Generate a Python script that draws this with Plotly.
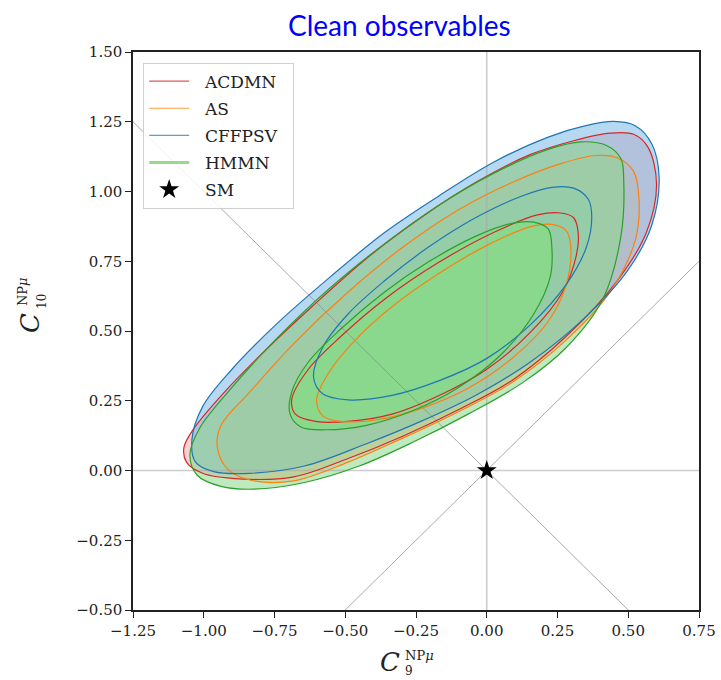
import plotly.graph_objects as go

# ---------------- data ----------------
models = ["ACDMN", "AS", "CFFPSV", "HMMN"]
line_colors = ["#d62728", "#ff7f0e", "#1f77b4", "#2ca02c"]
fill_2s = ["rgba(240,140,150,0.40)", "rgba(255,185,120,0.40)",
           "rgba(110,180,228,0.50)", "rgba(139,217,139,0.55)"]
fill_1s = ["rgba(240,140,150,0.45)", "rgba(255,185,120,0.45)",
           "rgba(100,185,225,0.60)", "rgba(134,218,134,0.90)"]
legend_colors = ["#e0575b", "#ff9a3c", "#5a9fd4", "#98d98e"]
legend_widths = [1.2, 1.2, 1.2, 3.0]

# contour outlines (C9, C10), counter-clockwise
acdmn_2s_c9 = [0.600, 0.570, 0.519, 0.436, 0.307, 0.153, -0.040, -0.233, -0.425, -0.618, -0.772, -0.926,
               -1.036, -1.070, -1.061, -1.004, -0.875, -0.682, -0.490, -0.297, -0.104, 0.088, 0.281, 0.461, 0.564]
acdmn_2s_c10 = [1.025, 1.158, 1.205, 1.209, 1.182, 1.132, 1.032, 0.906, 0.760, 0.587, 0.441, 0.282,
                0.149, 0.083, 0.030, -0.010, -0.030, -0.023, 0.043, 0.123, 0.216, 0.322, 0.481, 0.680, 0.853]
acdmn_1s_c9 = [0.323, 0.307, 0.262, 0.179, 0.024, -0.168, -0.361, -0.515, -0.631, -0.689, -0.676, -0.605,
               -0.490, -0.335, -0.168, -0.001, 0.153, 0.268, 0.317]
acdmn_1s_c10 = [0.853, 0.906, 0.923, 0.916, 0.853, 0.747, 0.614, 0.481, 0.362, 0.255, 0.202, 0.176,
                0.176, 0.202, 0.269, 0.362, 0.494, 0.640, 0.773]

as_2s_c9 = [0.538, 0.519, 0.461, 0.384, 0.256, 0.089, -0.104, -0.297, -0.490, -0.682, -0.837, -0.939,
            -0.952, -0.914, -0.837, -0.682, -0.490, -0.297, -0.104, 0.089, 0.281, 0.436, 0.525]
as_2s_c10 = [0.972, 1.072, 1.121, 1.129, 1.098, 1.032, 0.932, 0.800, 0.640, 0.455, 0.282, 0.162,
             0.083, 0.003, -0.034, -0.037, 0.030, 0.116, 0.209, 0.315, 0.468, 0.640, 0.826]
as_1s_c9 = [0.297, 0.281, 0.230, 0.153, -0.001, -0.168, -0.335, -0.464, -0.560, -0.601, -0.580, -0.515,
            -0.387, -0.233, -0.066, 0.088, 0.217, 0.281]
as_1s_c10 = [0.800, 0.859, 0.882, 0.873, 0.806, 0.707, 0.587, 0.468, 0.348, 0.255, 0.196, 0.176,
             0.182, 0.222, 0.295, 0.401, 0.534, 0.667]

cffpsv_2s_c9 = [0.609, 0.583, 0.526, 0.448, 0.346, 0.217, 0.024, -0.168, -0.361, -0.554, -0.747, -0.901,
                -1.004, -1.042, -1.029, -0.965, -0.837, -0.644, -0.425, -0.233, -0.040, 0.153, 0.346, 0.500, 0.583]
cffpsv_2s_c10 = [1.052, 1.171, 1.235, 1.251, 1.235, 1.195, 1.105, 0.985, 0.853, 0.693, 0.521, 0.362,
                 0.229, 0.109, 0.030, -0.004, -0.010, 0.016, 0.096, 0.176, 0.269, 0.388, 0.547, 0.720, 0.879]
cffpsv_1s_c9 = [0.371, 0.359, 0.307, 0.230, 0.127, -0.040, -0.207, -0.361, -0.490, -0.580, -0.612, -0.580,
                -0.490, -0.335, -0.168, -0.001, 0.153, 0.281, 0.352]
cffpsv_1s_c10 = [0.906, 0.972, 1.012, 1.015, 0.985, 0.906, 0.800, 0.680, 0.561, 0.441, 0.335, 0.275,
                 0.253, 0.269, 0.322, 0.401, 0.521, 0.667, 0.800]

hmmn_2s_c9 = [0.484, 0.474, 0.423, 0.333, 0.217, 0.024, -0.168, -0.361, -0.554, -0.747, -0.914, -1.016,
              -1.049, -1.023, -0.939, -0.824, -0.644, -0.451, -0.258, -0.066, 0.127, 0.281, 0.410, 0.474]
hmmn_2s_c10 = [1.039, 1.118, 1.165, 1.178, 1.151, 1.065, 0.952, 0.813, 0.654, 0.468, 0.282, 0.149,
               0.056, -0.017, -0.057, -0.067, -0.043, 0.016, 0.103, 0.202, 0.315, 0.441, 0.614, 0.839]
hmmn_1s_c9 = [0.230, 0.217, 0.166, 0.089, -0.040, -0.207, -0.361, -0.515, -0.631, -0.689, -0.695, -0.657,
              -0.567, -0.425, -0.258, -0.104, 0.050, 0.166, 0.224]
hmmn_1s_c10 = [0.800, 0.866, 0.890, 0.886, 0.839, 0.747, 0.640, 0.508, 0.388, 0.282, 0.202, 0.156,
               0.146, 0.162, 0.216, 0.295, 0.415, 0.561, 0.693]

contours_2s = [(acdmn_2s_c9, acdmn_2s_c10), (as_2s_c9, as_2s_c10),
               (cffpsv_2s_c9, cffpsv_2s_c10), (hmmn_2s_c9, hmmn_2s_c10)]
contours_1s = [(acdmn_1s_c9, acdmn_1s_c10), (as_1s_c9, as_1s_c10),
               (cffpsv_1s_c9, cffpsv_1s_c10), (hmmn_1s_c9, hmmn_1s_c10)]

sm_point_c9 = [0.0]
sm_point_c10 = [0.0]

x_ticks = [-1.25, -1.0, -0.75, -0.5, -0.25, 0.0, 0.25, 0.5, 0.75]
y_ticks = [-0.5, -0.25, 0.0, 0.25, 0.5, 0.75, 1.0, 1.25, 1.5]
diag_slopes = [1.0, -1.0]

# ---------------------------------------------------------------


def closed(xs, ys):
    return list(xs) + [xs[0]], list(ys) + [ys[0]]


def fmt(v):
    return f"{v:.2f}".replace("-", "\u2212")


fig = go.Figure()

# filled regions: 2 sigma ring (with a hole) then 1 sigma interior
for i, m in enumerate(models):
    ox, oy = closed(*contours_2s[i])
    ix, iy = closed(*contours_1s[i])
    ring_x = ox + [None] + ix[::-1]
    ring_y = oy + [None] + iy[::-1]
    fig.add_trace(go.Scatter(x=ring_x, y=ring_y, mode="lines", fill="toself",
                             fillcolor=fill_2s[i], line=dict(width=0, shape="spline", smoothing=1.0),
                             showlegend=False, hoverinfo="skip"))
    fig.add_trace(go.Scatter(x=ix, y=iy, mode="lines", fill="toself",
                             fillcolor=fill_1s[i], line=dict(width=0, shape="spline", smoothing=1.0),
                             showlegend=False, hoverinfo="skip"))

# reference lines
xr = [x_ticks[0], x_ticks[-1]]
yr = [y_ticks[0], y_ticks[-1]]
fig.add_trace(go.Scatter(x=[0, 0], y=yr, mode="lines",
                         line=dict(color="rgba(170,170,170,0.6)", width=1.6),
                         showlegend=False, hoverinfo="skip"))
fig.add_trace(go.Scatter(x=xr, y=[0, 0], mode="lines",
                         line=dict(color="rgba(170,170,170,0.6)", width=1.6),
                         showlegend=False, hoverinfo="skip"))
for s in diag_slopes:
    fig.add_trace(go.Scatter(x=xr, y=[s * v for v in xr], mode="lines",
                             line=dict(color="rgba(140,140,140,0.75)", width=1),
                             showlegend=False, hoverinfo="skip"))

# contour lines
for i, m in enumerate(models):
    for cx, cy in (contours_2s[i], contours_1s[i]):
        x, y = closed(cx, cy)
        fig.add_trace(go.Scatter(x=x, y=y, mode="lines",
                                 line=dict(color=line_colors[i], width=1.2, shape="spline", smoothing=1.0),
                                 showlegend=False, hoverinfo="skip"))

# legend entries
pad = "\u00a0\u00a0"
for i, m in enumerate(models):
    fig.add_trace(go.Scatter(x=[None], y=[None], mode="lines", name=pad + m + pad, legendgroup=m,
                             line=dict(color=legend_colors[i], width=legend_widths[i])))

fig.add_trace(go.Scatter(x=sm_point_c9, y=sm_point_c10, mode="markers", name=pad + "SM",
                         legendgroup="SM", hoverinfo="skip",
                         marker=dict(symbol="star", size=15, color="black")))

serif = "DejaVu Serif"
axis_common = dict(showgrid=False, zeroline=False, showline=True, linecolor="#222",
                   linewidth=1.5, mirror=True, ticks="outside", ticklen=6,
                   tickcolor="#222", tickwidth=1.2, automargin=False,
                   tickfont=dict(family=serif, size=15, color="#222"))

fig.update_layout(
    width=721, height=680,
    margin=dict(l=133, r=22, t=52, b=70),
    plot_bgcolor="white", paper_bgcolor="white",
    hovermode=False,
    xaxis=dict(range=xr, tickvals=x_ticks, ticktext=[fmt(v) for v in x_ticks], **axis_common),
    yaxis=dict(range=yr, tickvals=y_ticks, ticktext=[fmt(v) for v in y_ticks], **axis_common),
    legend=dict(x=0.018, y=0.981, xanchor="left", yanchor="top", itemwidth=40,
                bgcolor="rgba(255,255,255,0.85)", bordercolor="#d0d0d0", borderwidth=1,
                font=dict(family=serif, size=17, color="#222"),
                tracegroupgap=2, traceorder="grouped"),
)


def px_x(p):
    return (p - 133) / 566.0


def px_y(p):
    return (610 - p) / 558.0


ann = [
    dict(text="Clean observables", x=px_x(399), y=px_y(25), xanchor="center",
         font=dict(family="Lato", size=28, color="#0000ff")),
    dict(text="<i>C</i>", x=px_x(402), y=px_y(662), xanchor="right",
         font=dict(family=serif, size=26, color="#222")),
    dict(text="NP<i>μ</i>", x=px_x(403), y=px_y(655), xanchor="left",
         font=dict(family=serif, size=13, color="#222")),
    dict(text="9", x=px_x(403), y=px_y(671), xanchor="left",
         font=dict(family=serif, size=12, color="#222")),
    dict(text="<i>C</i>", x=px_x(30), y=px_y(323), xanchor="center", textangle=-90,
         font=dict(family=serif, size=26, color="#222")),
    dict(text="NP<i>μ</i>", x=px_x(22), y=px_y(292), xanchor="center", textangle=-90,
         font=dict(family=serif, size=13, color="#222")),
    dict(text="10", x=px_x(42), y=px_y(302), xanchor="center", textangle=-90,
         font=dict(family=serif, size=12, color="#222")),
]
for a in ann:
    fig.add_annotation(xref="paper", yref="paper", showarrow=False, yanchor="middle", **a)

fig.write_html("out.html", config={"displayModeBar": False},
               post_script="document.body.style.margin='0px';")
